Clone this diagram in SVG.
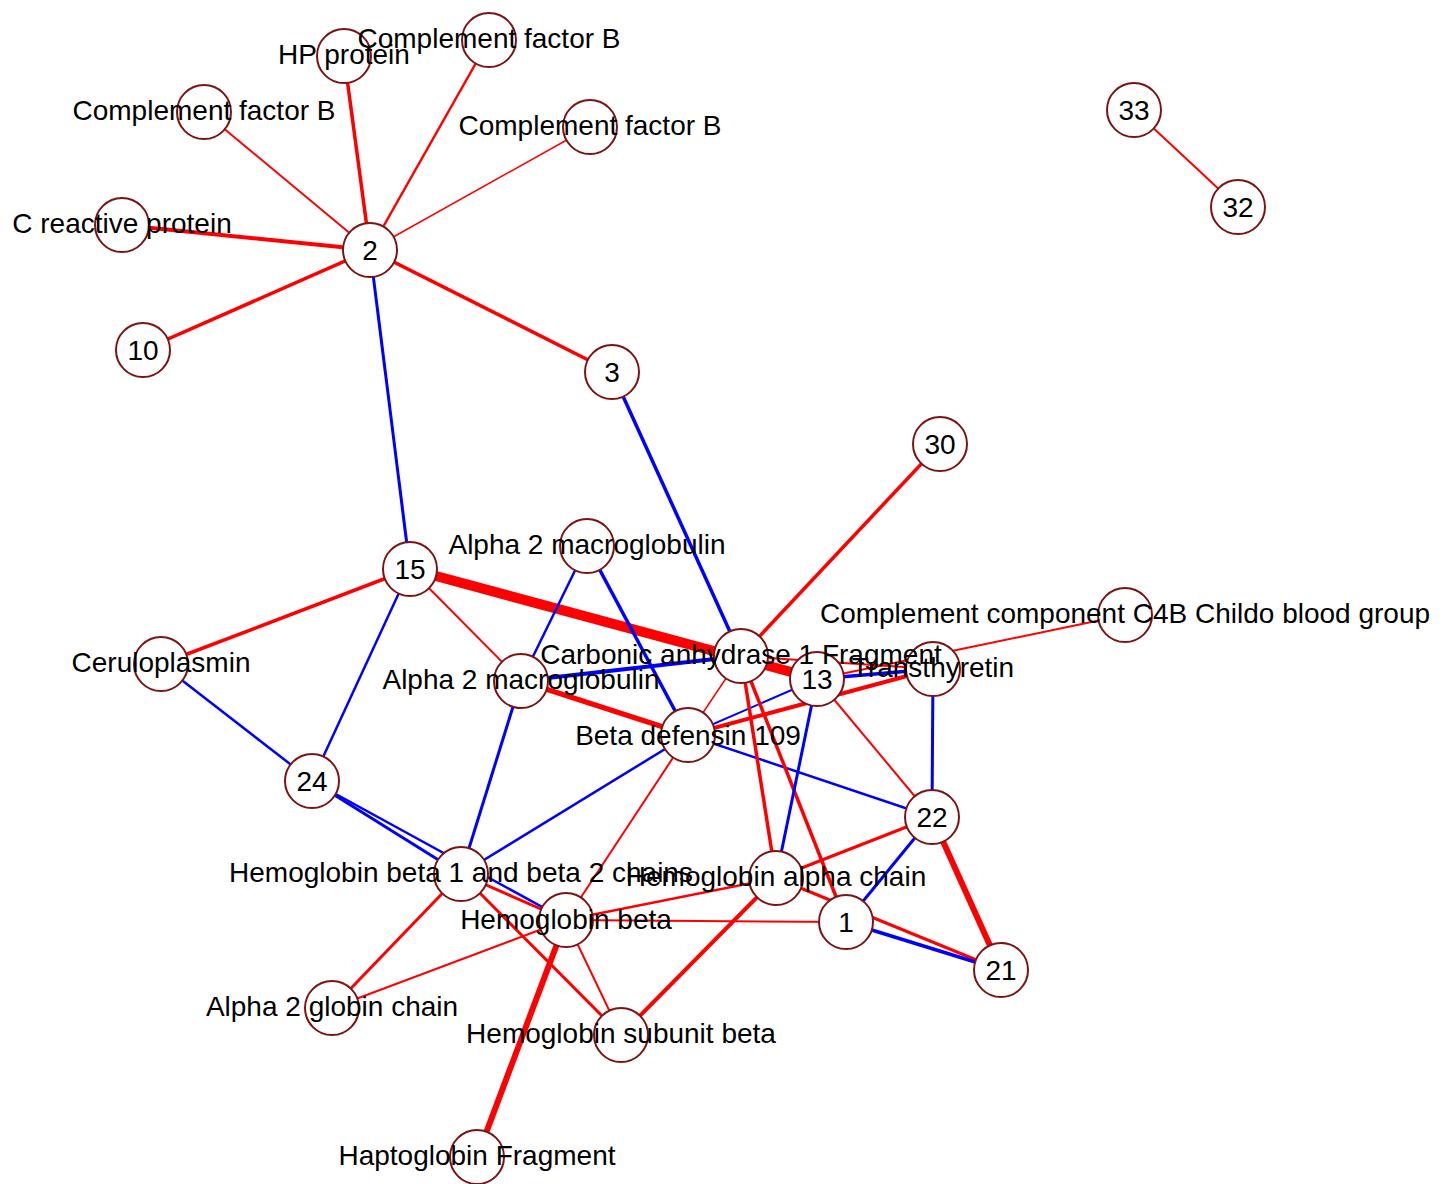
<svg xmlns="http://www.w3.org/2000/svg" width="1452" height="1184" viewBox="0 0 1452 1184">
<style>
.r{stroke:#ff0000;fill:none;stroke-linecap:butt}
.b{stroke:#0000ff;fill:none;stroke-linecap:butt}
.n circle{fill:#ffffff;stroke:#7b1414;stroke-width:2}
text{font-family:"Liberation Sans",Arial,Helvetica,sans-serif;font-size:28px;fill:#000;text-anchor:middle}
</style>
<rect width="1452" height="1184" fill="#ffffff"/>
<g id="edges">
<line class="r" x1="370" y1="250" x2="344" y2="56" stroke-width="3.5"/>
<line class="r" x1="370" y1="250" x2="489" y2="40" stroke-width="2.5"/>
<line class="r" x1="370" y1="250" x2="204" y2="112" stroke-width="2"/>
<line class="r" x1="370" y1="250" x2="590" y2="127" stroke-width="1.5"/>
<line class="r" x1="370" y1="250" x2="122" y2="225" stroke-width="4"/>
<line class="r" x1="370" y1="250" x2="143" y2="350" stroke-width="3.5"/>
<line class="r" x1="370" y1="250" x2="612" y2="372" stroke-width="3.5"/>
<line class="b" x1="370" y1="250" x2="410" y2="569" stroke-width="3"/>
<line class="r" x1="1134" y1="110" x2="1238" y2="207" stroke-width="2"/>
<line class="b" x1="612" y1="372" x2="741" y2="656" stroke-width="3.5"/>
<line class="r" x1="940" y1="444" x2="741" y2="656" stroke-width="3.5"/>
<line class="r" x1="410" y1="569" x2="817" y2="679" stroke-width="10"/>
<line class="r" x1="410" y1="569" x2="161" y2="664" stroke-width="3.5"/>
<line class="r" x1="410" y1="569" x2="521" y2="681" stroke-width="2"/>
<line class="b" x1="410" y1="569" x2="312" y2="781" stroke-width="2.5"/>
<line class="b" x1="161" y1="664" x2="312" y2="781" stroke-width="2.5"/>
<line class="b" x1="587" y1="546" x2="521" y2="681" stroke-width="2.5"/>
<line class="b" x1="521" y1="681" x2="461" y2="874" stroke-width="3"/>
<line class="b" x1="587" y1="546" x2="688" y2="735" stroke-width="3.5"/>
<line class="b" x1="521" y1="681" x2="741" y2="656" stroke-width="4"/>
<line class="r" x1="521" y1="681" x2="688" y2="735" stroke-width="5"/>
<line class="r" x1="741" y1="656" x2="688" y2="735" stroke-width="1.5"/>
<line class="r" x1="741" y1="656" x2="933" y2="669" stroke-width="2"/>
<line class="r" x1="1125" y1="615" x2="817" y2="679" stroke-width="2"/>
<line class="b" x1="817" y1="679" x2="933" y2="669" stroke-width="3.5"/>
<line class="r" x1="688" y1="735" x2="933" y2="669" stroke-width="4"/>
<line class="b" x1="688" y1="735" x2="817" y2="679" stroke-width="2"/>
<line class="b" x1="688" y1="735" x2="932" y2="817" stroke-width="2.5"/>
<line class="r" x1="741" y1="656" x2="776" y2="878" stroke-width="3.5"/>
<line class="r" x1="741" y1="656" x2="846" y2="922" stroke-width="3.5"/>
<line class="b" x1="817" y1="679" x2="776" y2="878" stroke-width="3"/>
<line class="r" x1="817" y1="679" x2="932" y2="817" stroke-width="2"/>
<line class="b" x1="933" y1="669" x2="932" y2="817" stroke-width="3"/>
<line class="r" x1="932" y1="817" x2="776" y2="878" stroke-width="3"/>
<line class="b" x1="932" y1="817" x2="846" y2="922" stroke-width="3"/>
<line class="r" x1="932" y1="817" x2="1001" y2="970" stroke-width="6"/>
<line class="r" x1="776" y1="878" x2="1001" y2="970" stroke-width="3"/>
<line class="b" x1="846" y1="922" x2="1001" y2="970" stroke-width="3.5"/>
<line class="r" x1="776" y1="878" x2="566" y2="920" stroke-width="2.5"/>
<line class="r" x1="566" y1="920" x2="846" y2="922" stroke-width="2"/>
<line class="r" x1="776" y1="878" x2="621" y2="1035" stroke-width="4"/>
<line class="r" x1="688" y1="735" x2="566" y2="920" stroke-width="2"/>
<line class="b" x1="688" y1="735" x2="461" y2="874" stroke-width="2.5"/>
<line class="b" x1="312" y1="781" x2="461" y2="874" stroke-width="3"/>
<line class="b" x1="312" y1="781" x2="566" y2="920" stroke-width="2.5"/>
<line class="r" x1="461" y1="874" x2="566" y2="920" stroke-width="3"/>
<line class="r" x1="461" y1="874" x2="621" y2="1035" stroke-width="3"/>
<line class="r" x1="461" y1="874" x2="332" y2="1008" stroke-width="3"/>
<line class="r" x1="566" y1="920" x2="332" y2="1008" stroke-width="2"/>
<line class="r" x1="566" y1="920" x2="621" y2="1035" stroke-width="2"/>
<line class="r" x1="566" y1="920" x2="477" y2="1157" stroke-width="6"/>
</g>
<g id="nodes">
<g class="n" id="n-hp"><circle cx="344" cy="56" r="27"/></g>
<g class="n" id="n-cfb1"><circle cx="489" cy="40" r="27"/></g>
<g class="n" id="n-cfb2"><circle cx="204" cy="112" r="27"/></g>
<g class="n" id="n-cfb3"><circle cx="590" cy="127" r="27"/></g>
<g class="n" id="n-crp"><circle cx="122" cy="225" r="27"/></g>
<g class="n" id="n-2"><circle cx="370" cy="250" r="27"/></g>
<g class="n" id="n-10"><circle cx="143" cy="350" r="27"/></g>
<g class="n" id="n-3"><circle cx="612" cy="372" r="27"/></g>
<g class="n" id="n-33"><circle cx="1134" cy="110" r="27"/></g>
<g class="n" id="n-32"><circle cx="1238" cy="207" r="27"/></g>
<g class="n" id="n-30"><circle cx="940" cy="444" r="27"/></g>
<g class="n" id="n-15"><circle cx="410" cy="569" r="27"/></g>
<g class="n" id="n-a2m1"><circle cx="587" cy="546" r="27"/></g>
<g class="n" id="n-c4b"><circle cx="1125" cy="615" r="27"/></g>
<g class="n" id="n-ca1"><circle cx="741" cy="656" r="27"/></g>
<g class="n" id="n-13"><circle cx="817" cy="679" r="27"/></g>
<g class="n" id="n-ttr"><circle cx="933" cy="669" r="27"/></g>
<g class="n" id="n-cp"><circle cx="161" cy="664" r="27"/></g>
<g class="n" id="n-a2m2"><circle cx="521" cy="681" r="27"/></g>
<g class="n" id="n-bd"><circle cx="688" cy="735" r="27"/></g>
<g class="n" id="n-24"><circle cx="312" cy="781" r="27"/></g>
<g class="n" id="n-22"><circle cx="932" cy="817" r="27"/></g>
<g class="n" id="n-hbb12"><circle cx="461" cy="874" r="27"/></g>
<g class="n" id="n-hba"><circle cx="776" cy="878" r="27"/></g>
<g class="n" id="n-hbb"><circle cx="566" cy="920" r="27"/></g>
<g class="n" id="n-1"><circle cx="846" cy="922" r="27"/></g>
<g class="n" id="n-21"><circle cx="1001" cy="970" r="27"/></g>
<g class="n" id="n-a2g"><circle cx="332" cy="1008" r="27"/></g>
<g class="n" id="n-hbs"><circle cx="621" cy="1035" r="27"/></g>
<g class="n" id="n-hp2"><circle cx="477" cy="1157" r="27"/></g>
</g>
<g id="labels">
<text x="344" y="64">HP protein</text>
<text x="489" y="48">Complement factor B</text>
<text x="204" y="120">Complement factor B</text>
<text x="590" y="135">Complement factor B</text>
<text x="122" y="233">C reactive protein</text>
<text x="370" y="260">2</text>
<text x="143" y="360">10</text>
<text x="612" y="382">3</text>
<text x="1134" y="120">33</text>
<text x="1238" y="217">32</text>
<text x="940" y="454">30</text>
<text x="410" y="579">15</text>
<text x="587" y="554">Alpha 2 macroglobulin</text>
<text x="1125" y="623">Complement component C4B Childo blood group</text>
<text x="741" y="664">Carbonic anhydrase 1 Fragment</text>
<text x="817" y="689">13</text>
<text x="933" y="677">Transthyretin</text>
<text x="161" y="672">Ceruloplasmin</text>
<text x="521" y="689">Alpha 2 macroglobulin</text>
<text x="688" y="745">Beta defensin 109</text>
<text x="312" y="791">24</text>
<text x="932" y="827">22</text>
<text x="461" y="882">Hemoglobin beta 1 and beta 2 chains</text>
<text x="776" y="886">Hemoglobin alpha chain</text>
<text x="566" y="929">Hemoglobin beta</text>
<text x="846" y="932">1</text>
<text x="1001" y="980">21</text>
<text x="332" y="1016">Alpha 2 globin chain</text>
<text x="621" y="1043">Hemoglobin subunit beta</text>
<text x="477" y="1165">Haptoglobin Fragment</text>
</g>
</svg>
